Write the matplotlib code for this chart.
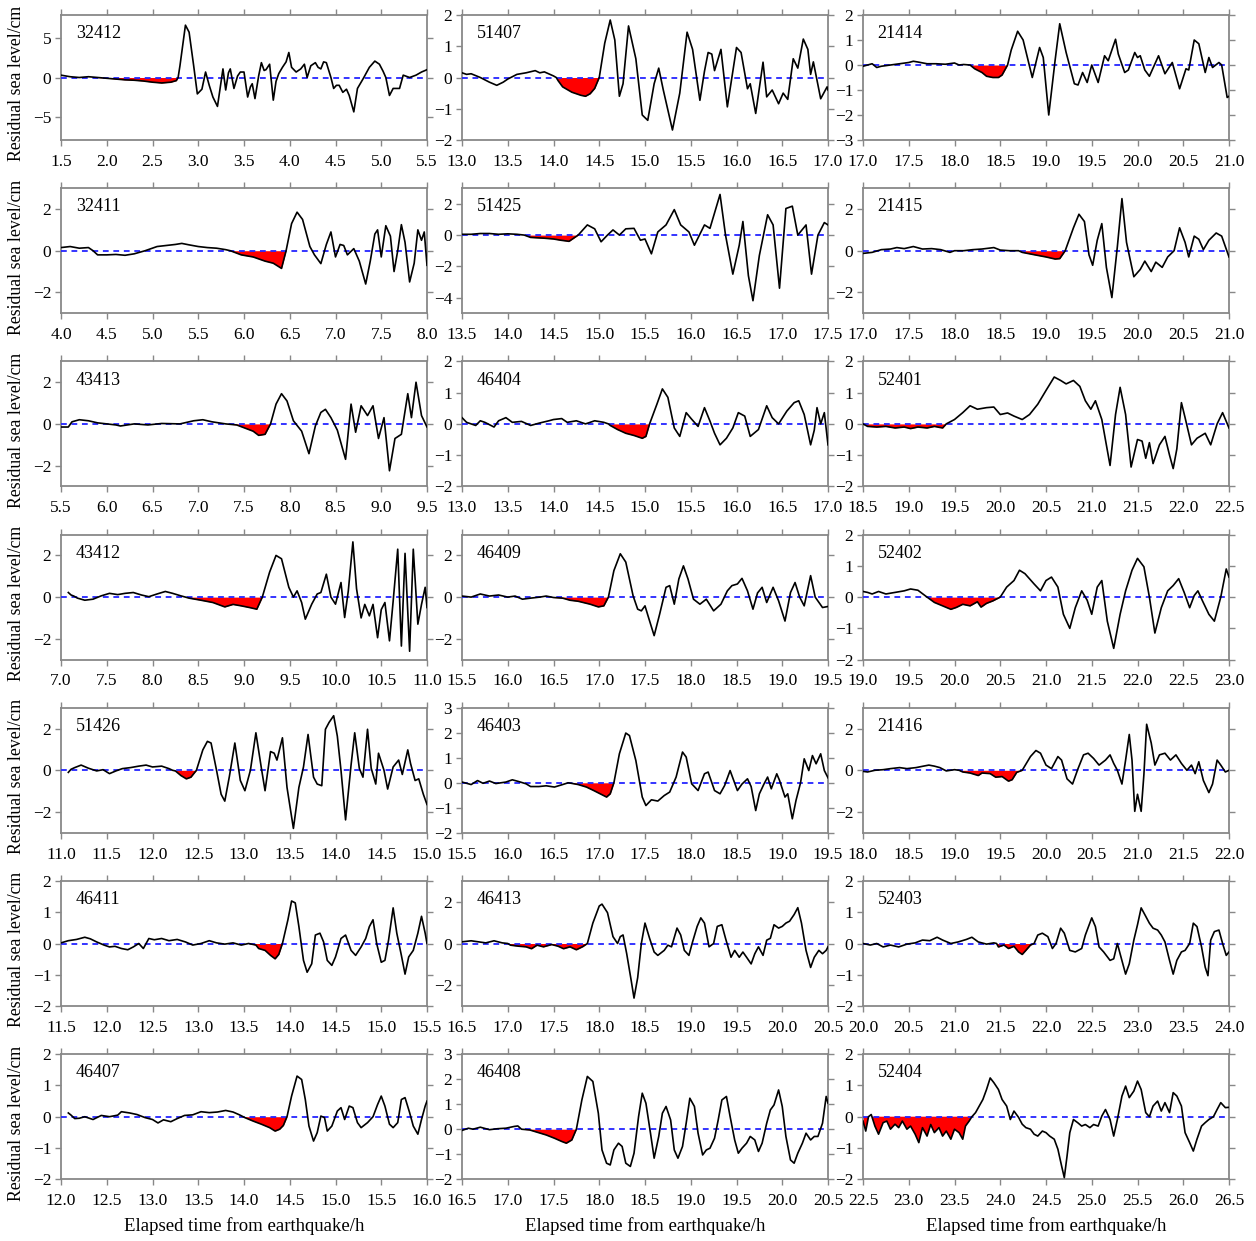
import numpy as np
import matplotlib.pyplot as plt

plt.rcParams['font.family'] = ['Liberation Serif', 'DejaVu Serif']
plt.rcParams['font.size'] = 12

# residual sea level records (time in h after earthquake, level in cm)
s32412 = [(1.5,0.3),(1.6,0.1),(1.7,0.0),(1.8,0.1),(1.9,0.0),(2.0,-0.1),(2.1,-0.2),(2.2,-0.3),(2.3,-0.35),(2.4,-0.45),(2.5,-0.6),(2.6,-0.7),(2.7,-0.6),(2.76,-0.4),(2.78,0.0),(2.8,1.5),(2.86,6.7),(2.9,5.8),(2.95,1.5),(2.99,-2.1),(3.04,-1.5),(3.08,0.7),(3.12,-1.0),(3.16,-2.5),(3.21,-3.7),(3.25,-0.5),(3.27,1.1),(3.3,-1.6),(3.33,0.6),(3.35,1.1),(3.39,-1.4),(3.43,0.2),(3.46,0.7),(3.5,0.7),(3.54,-2.5),(3.57,-1.2),(3.59,-0.8),(3.62,-2.7),(3.66,0.2),(3.69,1.9),(3.72,0.9),(3.74,1.0),(3.78,1.7),(3.82,-2.9),(3.85,-0.5),(3.88,0.5),(3.92,1.3),(3.96,2.0),(3.99,3.2),(4.02,1.3),(4.07,0.7),(4.12,1.1),(4.16,1.7),(4.19,0.0),(4.23,1.5),(4.28,1.9),(4.31,1.3),(4.34,1.1),(4.37,2.0),(4.40,1.9),(4.45,0.0),(4.48,-1.4),(4.51,-1.0),(4.54,-1.0),(4.58,-1.9),(4.62,-1.5),(4.65,-2.3),(4.70,-4.4),(4.74,-1.4),(4.8,-0.2),(4.87,1.3),(4.93,2.1),(4.98,1.7),(5.02,0.8),(5.05,0.0),(5.09,-2.3),(5.13,-1.4),(5.2,-1.4),(5.24,0.3),(5.31,0.0),(5.38,0.3),(5.44,0.7),(5.5,1.0)]
s51407 = [(13.0,0.15),(13.05,0.1),(13.1,0.12),(13.2,0.0),(13.3,-0.15),(13.38,-0.25),(13.45,-0.15),(13.5,-0.05),(13.6,0.1),(13.7,0.15),(13.8,0.22),(13.85,0.15),(13.9,0.18),(14.0,0.05),(14.03,0.0),(14.05,-0.1),(14.1,-0.3),(14.2,-0.47),(14.3,-0.57),(14.35,-0.6),(14.4,-0.52),(14.45,-0.35),(14.5,0.0),(14.56,1.1),(14.62,1.84),(14.67,1.2),(14.72,-0.6),(14.76,-0.2),(14.82,1.65),(14.9,0.6),(14.97,-1.2),(15.03,-1.37),(15.1,-0.2),(15.15,0.3),(15.2,-0.4),(15.3,-1.68),(15.38,-0.5),(15.46,1.45),(15.52,0.9),(15.6,-0.73),(15.65,0.2),(15.69,0.8),(15.73,0.75),(15.76,0.22),(15.83,0.9),(15.9,-0.94),(16.0,0.96),(16.05,0.8),(16.12,-0.36),(16.15,-0.2),(16.21,-1.15),(16.29,0.49),(16.33,-0.62),(16.39,-0.4),(16.46,-0.84),(16.51,-0.5),(16.56,-0.7),(16.62,0.6),(16.67,0.3),(16.73,1.23),(16.78,0.9),(16.81,0.1),(16.84,0.5),(16.92,-0.68),(16.99,-0.3),(17.0,-0.4)]
s21414 = [(17.0,-0.05),(17.1,0.05),(17.15,-0.1),(17.2,-0.05),(17.3,0.0),(17.4,0.05),(17.5,0.1),(17.55,0.15),(17.6,0.12),(17.7,0.05),(17.8,0.05),(17.9,0.03),(18.0,0.08),(18.05,0.0),(18.1,0.02),(18.17,0.0),(18.22,-0.15),(18.3,-0.3),(18.35,-0.45),(18.42,-0.5),(18.48,-0.5),(18.52,-0.4),(18.58,0.0),(18.62,0.6),(18.69,1.35),(18.75,1.0),(18.85,-0.5),(18.93,0.7),(18.97,0.3),(19.03,-2.0),(19.1,0.2),(19.15,1.65),(19.22,0.5),(19.31,-0.75),(19.35,-0.8),(19.4,-0.3),(19.45,-0.7),(19.5,0.0),(19.57,-0.7),(19.64,0.37),(19.68,0.17),(19.76,1.03),(19.79,0.44),(19.86,-0.3),(19.9,-0.2),(19.97,0.5),(20.0,0.3),(20.03,0.37),(20.08,-0.2),(20.13,-0.45),(20.23,0.37),(20.3,-0.35),(20.38,0.1),(20.46,-0.95),(20.53,-0.15),(20.56,-0.2),(20.62,1.0),(20.67,0.85),(20.74,-0.3),(20.78,0.3),(20.82,-0.1),(20.89,0.1),(20.92,0.0),(20.98,-1.3),(21.0,-1.25)]

s32411 = [(4.0,0.15),(4.1,0.2),(4.2,0.12),(4.3,0.15),(4.35,0.0),(4.4,-0.2),(4.5,-0.2),(4.6,-0.18),(4.7,-0.22),(4.8,-0.15),(4.92,0.0),(5.05,0.2),(5.15,0.25),(5.25,0.3),(5.32,0.35),(5.4,0.28),(5.5,0.2),(5.6,0.15),(5.7,0.12),(5.8,0.05),(5.85,0.0),(5.88,-0.05),(5.97,-0.2),(6.1,-0.3),(6.23,-0.5),(6.32,-0.6),(6.41,-0.85),(6.46,0.0),(6.52,1.3),(6.58,1.85),(6.64,1.5),(6.72,0.2),(6.77,-0.2),(6.84,-0.62),(6.9,0.3),(6.95,0.9),(7.0,-0.3),(7.05,0.3),(7.09,0.25),(7.13,-0.2),(7.2,0.1),(7.26,-0.5),(7.33,-1.6),(7.38,-0.5),(7.43,0.8),(7.46,1.0),(7.5,-0.3),(7.55,1.2),(7.6,0.7),(7.64,-1.0),(7.68,0.0),(7.72,1.25),(7.76,0.4),(7.81,-1.5),(7.86,-0.6),(7.9,1.0),(7.94,0.5),(7.97,0.9),(8.0,-0.7)]
s51425 = [(13.5,0.05),(13.6,0.05),(13.7,0.1),(13.8,0.1),(13.9,0.05),(14.0,0.08),(14.1,0.05),(14.18,0.0),(14.25,-0.15),(14.4,-0.2),(14.5,-0.25),(14.58,-0.33),(14.67,-0.4),(14.72,-0.2),(14.77,0.0),(14.87,0.65),(14.95,0.4),(15.02,-0.43),(15.09,0.0),(15.15,0.33),(15.22,0.0),(15.29,0.4),(15.38,0.43),(15.45,-0.33),(15.5,-0.25),(15.57,-1.2),(15.64,0.2),(15.73,0.65),(15.82,1.63),(15.89,0.65),(15.98,0.2),(16.04,-0.65),(16.15,0.65),(16.21,0.43),(16.32,2.6),(16.38,0.0),(16.46,-2.5),(16.53,-0.65),(16.57,0.87),(16.63,-2.6),(16.68,-4.2),(16.75,-1.3),(16.84,1.3),(16.9,0.65),(16.97,-3.4),(17.04,1.7),(17.11,1.85),(17.17,0.0),(17.26,0.65),(17.32,-2.5),(17.39,0.0),(17.46,0.8),(17.5,0.65)]
s21415 = [(17.0,-0.13),(17.1,-0.08),(17.2,0.05),(17.3,0.08),(17.37,0.15),(17.45,0.1),(17.55,0.2),(17.65,0.08),(17.75,0.1),(17.85,0.05),(17.95,-0.08),(18.0,0.0),(18.1,0.0),(18.2,0.05),(18.3,0.08),(18.43,0.15),(18.5,0.03),(18.6,0.0),(18.7,0.0),(18.74,-0.08),(18.88,-0.2),(19.0,-0.3),(19.1,-0.4),(19.15,-0.38),(19.21,0.0),(19.3,1.1),(19.36,1.75),(19.42,1.4),(19.47,-0.2),(19.51,-0.7),(19.56,0.5),(19.61,1.3),(19.66,-0.8),(19.72,-2.25),(19.78,0.2),(19.83,2.5),(19.88,0.4),(19.96,-1.25),(20.03,-0.9),(20.08,-0.5),(20.15,-1.0),(20.2,-0.55),(20.27,-0.8),(20.33,-0.3),(20.4,0.0),(20.46,1.1),(20.52,0.4),(20.56,-0.3),(20.62,0.7),(20.67,0.55),(20.72,0.05),(20.78,0.5),(20.86,0.85),(20.92,0.7),(21.0,-0.3)]

s43413 = [(5.5,-0.15),(5.58,-0.15),(5.62,0.1),(5.7,0.2),(5.8,0.15),(5.9,0.05),(6.0,0.0),(6.1,-0.05),(6.15,-0.1),(6.3,0.0),(6.45,-0.05),(6.6,0.02),(6.8,0.0),(6.95,0.15),(7.05,0.2),(7.15,0.1),(7.3,0.0),(7.42,-0.05),(7.51,-0.2),(7.6,-0.35),(7.66,-0.55),(7.73,-0.5),(7.79,0.0),(7.85,0.95),(7.91,1.45),(7.97,1.1),(8.04,0.15),(8.13,-0.35),(8.21,-1.43),(8.28,-0.1),(8.34,0.55),(8.39,0.7),(8.45,0.3),(8.52,-0.3),(8.61,-1.7),(8.67,0.95),(8.72,-0.4),(8.78,0.87),(8.85,0.4),(8.91,0.87),(8.97,-0.7),(9.03,0.3),(9.09,-2.25),(9.15,-0.7),(9.22,-0.5),(9.29,1.45),(9.33,0.3),(9.38,2.0),(9.44,0.4),(9.5,-0.15)]
s46404 = [(13.0,0.2),(13.05,0.05),(13.1,0.0),(13.15,-0.05),(13.2,0.1),(13.25,0.05),(13.35,-0.1),(13.4,0.1),(13.48,0.2),(13.55,0.05),(13.65,0.08),(13.75,-0.05),(13.85,0.03),(13.95,0.1),(14.0,0.14),(14.09,0.17),(14.15,0.05),(14.25,0.1),(14.35,0.0),(14.45,0.1),(14.55,0.05),(14.6,0.0),(14.62,-0.05),(14.7,-0.18),(14.79,-0.3),(14.88,-0.37),(14.97,-0.46),(15.01,-0.4),(15.05,0.0),(15.13,0.63),(15.19,1.12),(15.25,0.85),(15.32,-0.13),(15.38,-0.4),(15.45,0.36),(15.51,0.15),(15.58,-0.08),(15.65,0.52),(15.71,0.09),(15.76,-0.3),(15.82,-0.67),(15.89,-0.46),(15.96,-0.13),(16.02,0.36),(16.09,0.25),(16.15,-0.4),(16.24,-0.18),(16.33,0.58),(16.39,0.2),(16.46,0.0),(16.55,0.41),(16.63,0.68),(16.68,0.74),(16.74,0.3),(16.81,-0.67),(16.85,-0.2),(16.88,0.52),(16.92,0.0),(16.96,0.36),(17.0,-0.67)]
s52401 = [(18.5,0.0),(18.55,-0.08),(18.65,-0.1),(18.75,-0.08),(18.85,-0.13),(18.95,-0.1),(19.02,-0.15),(19.1,-0.1),(19.2,-0.13),(19.28,-0.08),(19.37,-0.13),(19.41,0.0),(19.5,0.14),(19.59,0.36),(19.67,0.58),(19.75,0.47),(19.85,0.52),(19.93,0.54),(20.0,0.3),(20.08,0.35),(20.15,0.25),(20.24,0.14),(20.32,0.3),(20.41,0.63),(20.5,1.07),(20.59,1.5),(20.66,1.39),(20.72,1.28),(20.8,1.39),(20.87,1.2),(20.93,0.74),(20.99,0.47),(21.04,0.74),(21.11,0.14),(21.2,-1.33),(21.26,0.3),(21.31,1.17),(21.37,0.3),(21.43,-1.38),(21.5,-0.5),(21.55,-0.55),(21.59,-1.1),(21.63,-0.6),(21.67,-1.27),(21.74,-0.67),(21.8,-0.4),(21.85,-1.0),(21.89,-1.43),(21.93,-0.8),(21.98,0.68),(22.02,0.2),(22.09,-0.67),(22.15,-0.46),(22.24,-0.3),(22.3,-0.67),(22.37,0.0),(22.43,0.36),(22.5,-0.13)]

s43412 = [(7.08,0.22),(7.11,0.1),(7.14,0.05),(7.18,-0.05),(7.26,-0.15),(7.35,-0.1),(7.44,0.06),(7.53,0.18),(7.62,0.12),(7.7,0.18),(7.79,0.22),(7.88,0.1),(7.96,0.02),(8.05,0.15),(8.14,0.27),(8.22,0.18),(8.31,0.06),(8.36,0.0),(8.4,-0.05),(8.53,-0.15),(8.66,-0.26),(8.79,-0.47),(8.88,-0.35),(8.97,-0.42),(9.06,-0.5),(9.14,-0.58),(9.2,0.0),(9.28,1.2),(9.35,2.0),(9.41,1.84),(9.49,0.47),(9.54,0.0),(9.58,0.3),(9.63,-0.26),(9.67,-1.06),(9.74,-0.34),(9.8,0.15),(9.84,0.22),(9.9,1.1),(9.95,0.0),(10.0,-0.34),(10.06,0.7),(10.1,-0.98),(10.14,0.3),(10.19,2.65),(10.23,0.4),(10.28,-1.0),(10.32,-0.35),(10.37,-0.9),(10.41,-0.35),(10.46,-1.95),(10.5,-0.6),(10.54,-0.26),(10.59,-2.1),(10.63,-0.2),(10.68,2.3),(10.72,-2.35),(10.76,2.1),(10.81,-2.6),(10.85,2.3),(10.9,-1.3),(10.94,-0.35),(10.98,0.47),(11.0,-0.5)]
s46409 = [(15.5,0.05),(15.6,0.0),(15.7,0.15),(15.8,0.05),(15.9,0.1),(16.0,0.0),(16.08,0.05),(16.16,-0.1),(16.25,-0.05),(16.35,0.0),(16.42,0.05),(16.5,-0.02),(16.6,-0.05),(16.68,-0.15),(16.77,-0.2),(16.9,-0.34),(16.99,-0.47),(17.05,-0.42),(17.1,0.0),(17.16,1.27),(17.23,2.08),(17.29,1.68),(17.37,0.06),(17.42,-0.58),(17.46,-0.66),(17.5,-0.42),(17.54,-1.0),(17.6,-1.85),(17.66,-0.82),(17.73,0.47),(17.77,0.55),(17.82,-0.34),(17.87,0.87),(17.92,1.5),(17.97,0.87),(18.03,-0.1),(18.1,-0.34),(18.17,-0.1),(18.25,-0.66),(18.33,-0.34),(18.4,0.3),(18.45,0.55),(18.51,0.63),(18.56,0.9),(18.62,0.3),(18.68,-0.58),(18.73,0.2),(18.78,0.47),(18.83,-0.26),(18.9,0.47),(18.96,-0.18),(19.03,-1.15),(19.09,0.22),(19.14,0.7),(19.19,0.0),(19.24,-0.42),(19.31,1.03),(19.36,0.0),(19.44,-0.5),(19.5,-0.45)]
s52402 = [(19.0,0.18),(19.05,0.15),(19.1,0.1),(19.17,0.18),(19.25,0.1),(19.35,0.15),(19.45,0.2),(19.52,0.26),(19.6,0.22),(19.7,0.0),(19.78,-0.17),(19.87,-0.28),(19.96,-0.39),(20.02,-0.33),(20.09,-0.23),(20.17,-0.28),(20.25,-0.15),(20.29,-0.32),(20.35,-0.2),(20.42,-0.12),(20.5,0.0),(20.57,0.32),(20.65,0.53),(20.71,0.86),(20.77,0.75),(20.87,0.42),(20.94,0.2),(21.0,0.53),(21.06,0.64),(21.13,0.32),(21.19,-0.55),(21.26,-1.0),(21.32,-0.34),(21.39,0.2),(21.45,-0.1),(21.5,-0.55),(21.56,0.32),(21.61,0.53),(21.67,-0.77),(21.74,-1.64),(21.81,-0.55),(21.87,0.2),(21.94,0.86),(22.0,1.24),(22.07,0.97),(22.13,0.0),(22.19,-1.15),(22.26,-0.34),(22.33,0.2),(22.39,0.37),(22.45,0.59),(22.51,0.15),(22.57,-0.34),(22.62,0.05),(22.66,0.2),(22.71,-0.12),(22.78,-0.55),(22.84,-0.77),(22.91,0.0),(22.97,0.9),(23.0,0.64)]

s51426 = [(11.08,-0.1),(11.11,0.05),(11.15,0.13),(11.22,0.25),(11.3,0.1),(11.39,-0.03),(11.46,0.03),(11.53,-0.16),(11.6,-0.03),(11.67,0.08),(11.76,0.13),(11.85,0.2),(11.93,0.25),(12.0,0.16),(12.1,0.2),(12.18,0.08),(12.22,0.0),(12.25,-0.03),(12.31,-0.25),(12.37,-0.41),(12.42,-0.33),(12.48,0.0),(12.55,0.98),(12.6,1.39),(12.64,1.31),(12.7,0.0),(12.75,-1.15),(12.79,-1.48),(12.84,-0.3),(12.9,1.31),(12.96,-0.49),(13.01,-0.98),(13.07,0.0),(13.13,1.8),(13.19,0.1),(13.23,-0.98),(13.29,0.9),(13.33,0.82),(13.36,0.49),(13.42,1.56),(13.47,-0.82),(13.54,-2.79),(13.6,-0.82),(13.65,0.16),(13.7,1.72),(13.76,-0.33),(13.8,-0.66),(13.85,-0.74),(13.89,1.97),(13.93,2.3),(13.98,2.62),(14.02,1.64),(14.06,0.0),(14.11,-2.38),(14.17,0.25),(14.21,1.8),(14.26,0.1),(14.3,-0.33),(14.35,1.97),(14.39,0.1),(14.44,-0.66),(14.47,0.82),(14.53,0.0),(14.57,-0.9),(14.63,0.16),(14.69,0.49),(14.73,-0.2),(14.79,0.98),(14.82,0.33),(14.87,-0.49),(14.91,-0.41),(14.96,-1.15),(15.0,-1.64)]
s46403 = [(15.5,0.03),(15.6,-0.07),(15.67,0.09),(15.73,-0.02),(15.8,0.07),(15.87,-0.03),(15.98,0.03),(16.05,0.12),(16.12,0.05),(16.2,-0.04),(16.25,-0.15),(16.34,-0.15),(16.42,-0.12),(16.51,-0.17),(16.6,-0.07),(16.66,0.0),(16.68,-0.01),(16.77,-0.07),(16.86,-0.17),(16.94,-0.31),(17.01,-0.44),(17.08,-0.57),(17.12,-0.44),(17.16,0.0),(17.22,1.16),(17.29,1.99),(17.33,1.89),(17.4,0.89),(17.47,-0.57),(17.51,-0.91),(17.57,-0.68),(17.64,-0.73),(17.71,-0.51),(17.77,-0.37),(17.84,0.23),(17.91,1.23),(17.95,1.03),(18.01,-0.04),(18.08,-0.31),(18.15,0.36),(18.19,0.43),(18.26,-0.31),(18.32,-0.44),(18.37,-0.11),(18.43,0.49),(18.47,0.09),(18.51,-0.31),(18.56,-0.05),(18.62,0.16),(18.66,-0.15),(18.71,-1.11),(18.75,-0.44),(18.8,-0.05),(18.84,0.23),(18.88,-0.24),(18.94,0.36),(18.97,0.1),(19.03,-0.57),(19.06,-0.44),(19.11,-1.44),(19.15,-0.71),(19.2,0.0),(19.24,0.96),(19.29,0.49),(19.33,1.09),(19.37,0.76),(19.42,1.16),(19.46,0.49),(19.5,0.2)]
s21416 = [(18.0,-0.05),(18.05,-0.08),(18.13,0.0),(18.22,0.03),(18.3,0.08),(18.4,0.13),(18.48,0.08),(18.58,0.13),(18.66,0.2),(18.72,0.25),(18.78,0.2),(18.84,0.13),(18.91,-0.03),(19.0,0.03),(19.05,0.0),(19.09,-0.08),(19.17,-0.13),(19.26,-0.25),(19.3,-0.13),(19.39,-0.16),(19.45,-0.33),(19.52,-0.3),(19.59,-0.52),(19.63,-0.45),(19.68,-0.1),(19.74,0.0),(19.83,0.66),(19.89,0.95),(19.94,0.82),(20.0,0.25),(20.06,0.08),(20.13,0.66),(20.17,0.49),(20.23,-0.41),(20.29,-0.66),(20.35,0.08),(20.41,0.74),(20.46,0.82),(20.52,0.57),(20.58,0.25),(20.65,0.49),(20.7,0.74),(20.74,0.33),(20.78,0.0),(20.83,-0.66),(20.87,0.49),(20.91,1.72),(20.94,0.49),(20.97,-1.97),(21.0,-1.15),(21.04,-1.97),(21.07,-0.2),(21.1,2.21),(21.15,1.31),(21.19,0.25),(21.24,0.74),(21.3,0.82),(21.36,0.49),(21.42,0.74),(21.48,0.33),(21.54,0.0),(21.59,0.25),(21.63,-0.16),(21.67,0.41),(21.72,-0.49),(21.78,-1.07),(21.82,-0.66),(21.87,0.49),(21.91,0.25),(21.96,-0.08),(22.0,0.0)]

s46411 = [(11.5,0.02),(11.58,0.09),(11.67,0.13),(11.76,0.2),(11.82,0.15),(11.89,0.05),(11.97,-0.05),(12.03,-0.11),(12.09,-0.09),(12.16,-0.16),(12.23,-0.2),(12.29,-0.11),(12.35,0.0),(12.4,-0.16),(12.46,0.16),(12.52,0.12),(12.6,0.16),(12.68,0.09),(12.77,0.13),(12.86,0.05),(12.94,-0.05),(13.03,0.0),(13.12,0.09),(13.2,0.02),(13.29,-0.02),(13.38,0.02),(13.47,-0.05),(13.55,0.0),(13.63,-0.05),(13.66,-0.16),(13.73,-0.22),(13.79,-0.38),(13.84,-0.49),(13.88,-0.35),(13.92,0.0),(13.98,0.76),(14.02,1.36),(14.06,1.3),(14.1,0.54),(14.15,-0.54),(14.19,-0.92),(14.24,-0.65),(14.28,0.27),(14.33,0.33),(14.37,0.05),(14.41,-0.54),(14.46,-0.7),(14.5,-0.43),(14.56,0.16),(14.61,0.27),(14.67,-0.22),(14.72,-0.38),(14.78,-0.11),(14.83,0.16),(14.87,0.54),(14.91,0.76),(14.95,0.0),(15.0,-0.6),(15.04,-0.54),(15.08,0.11),(15.13,1.14),(15.17,0.33),(15.22,-0.38),(15.26,-0.98),(15.3,-0.43),(15.35,-0.22),(15.4,0.33),(15.44,0.87),(15.48,0.33),(15.5,0.0)]
s46413 = [(16.5,0.08),(16.6,0.13),(16.68,0.08),(16.76,0.03),(16.85,0.13),(16.94,0.03),(17.0,0.0),(17.03,-0.08),(17.12,-0.13),(17.2,-0.16),(17.26,-0.25),(17.32,-0.08),(17.39,-0.16),(17.48,-0.05),(17.55,-0.13),(17.61,-0.25),(17.68,-0.16),(17.75,-0.3),(17.82,-0.15),(17.87,0.0),(17.93,0.98),(18.0,1.8),(18.03,1.89),(18.09,1.48),(18.15,0.33),(18.2,0.0),(18.23,0.33),(18.26,0.41),(18.3,-0.49),(18.35,-1.8),(18.38,-2.62),(18.42,-1.64),(18.46,0.0),(18.5,0.98),(18.55,0.25),(18.6,-0.41),(18.64,-0.57),(18.71,-0.33),(18.75,-0.08),(18.79,-0.16),(18.85,0.74),(18.89,0.41),(18.93,-0.33),(18.98,-0.57),(19.02,0.08),(19.07,0.82),(19.11,1.23),(19.15,0.98),(19.2,-0.16),(19.25,0.0),(19.29,0.82),(19.34,0.9),(19.38,0.25),(19.44,-0.66),(19.48,-0.33),(19.53,-0.66),(19.57,-0.41),(19.61,-0.66),(19.66,-0.98),(19.7,-0.49),(19.74,-0.16),(19.79,-0.57),(19.83,0.16),(19.87,0.25),(19.91,0.9),(19.96,0.74),(20.0,0.82),(20.04,0.98),(20.08,1.07),(20.13,1.39),(20.17,1.72),(20.21,0.98),(20.26,-0.33),(20.31,-1.15),(20.35,-0.66),(20.4,-0.33),(20.44,-0.49),(20.48,-0.33),(20.5,-0.16)]
s52403 = [(20.0,0.0),(20.08,-0.05),(20.15,0.0),(20.22,-0.11),(20.3,-0.05),(20.39,-0.11),(20.48,-0.02),(20.57,0.02),(20.65,0.11),(20.73,0.09),(20.81,0.2),(20.87,0.11),(20.96,0.0),(21.04,0.05),(21.13,0.13),(21.19,0.2),(21.26,0.05),(21.35,-0.02),(21.43,0.02),(21.46,0.0),(21.48,-0.11),(21.54,-0.05),(21.59,-0.16),(21.65,-0.09),(21.7,-0.27),(21.74,-0.35),(21.78,-0.22),(21.83,-0.05),(21.87,0.0),(21.91,0.27),(21.96,0.33),(22.02,0.22),(22.07,-0.16),(22.11,0.0),(22.16,0.49),(22.2,0.33),(22.26,-0.22),(22.32,-0.27),(22.39,-0.16),(22.43,0.27),(22.5,0.82),(22.54,0.54),(22.58,-0.11),(22.63,-0.27),(22.7,-0.54),(22.74,-0.49),(22.78,0.0),(22.81,-0.33),(22.87,-0.98),(22.91,-0.65),(22.96,0.11),(23.0,0.6),(23.04,1.14),(23.09,0.87),(23.13,0.65),(23.17,0.49),(23.22,0.43),(23.26,0.27),(23.3,0.05),(23.35,-0.54),(23.39,-0.98),(23.43,-0.54),(23.48,-0.27),(23.52,-0.22),(23.57,0.0),(23.61,0.65),(23.65,0.54),(23.7,-0.11),(23.74,-0.76),(23.77,-1.03),(23.8,0.11),(23.84,0.38),(23.89,0.43),(23.93,0.0),(23.97,-0.38),(24.0,-0.27)]

s46407 = [(12.08,0.12),(12.11,0.05),(12.15,-0.06),(12.2,-0.05),(12.26,0.0),(12.35,-0.09),(12.44,0.04),(12.53,0.0),(12.62,0.05),(12.66,0.16),(12.75,0.12),(12.83,0.07),(12.92,-0.03),(13.0,-0.09),(13.06,-0.2),(13.12,-0.1),(13.2,-0.16),(13.27,-0.06),(13.35,0.04),(13.44,0.06),(13.53,0.16),(13.62,0.13),(13.71,0.15),(13.8,0.2),(13.88,0.15),(13.95,0.06),(13.99,0.0),(14.01,-0.03),(14.1,-0.14),(14.19,-0.24),(14.28,-0.35),(14.34,-0.46),(14.39,-0.4),(14.43,-0.28),(14.47,0.0),(14.52,0.66),(14.58,1.3),(14.63,1.19),(14.67,0.55),(14.71,-0.3),(14.76,-0.78),(14.8,-0.51),(14.84,0.02),(14.88,-0.03),(14.91,-0.46),(14.96,-0.3),(15.02,0.18),(15.06,0.29),(15.1,-0.09),(15.15,0.34),(15.19,0.29),(15.24,-0.19),(15.28,-0.35),(15.35,-0.19),(15.41,0.0),(15.46,0.39),(15.5,0.66),(15.54,0.34),(15.59,-0.24),(15.63,-0.35),(15.68,-0.19),(15.72,0.55),(15.76,0.61),(15.81,0.13),(15.85,-0.3),(15.9,-0.56),(15.94,-0.09),(15.98,0.34),(16.0,0.5)]
s46408 = [(16.5,-0.05),(16.57,0.04),(16.62,0.0),(16.7,0.08),(16.8,-0.02),(16.89,0.02),(16.98,0.04),(17.07,0.11),(17.11,0.13),(17.15,0.0),(17.24,-0.03),(17.33,-0.13),(17.42,-0.23),(17.51,-0.36),(17.59,-0.49),(17.64,-0.56),(17.7,-0.43),(17.75,0.0),(17.81,1.17),(17.87,2.11),(17.93,1.91),(17.99,0.64),(18.03,-0.83),(18.08,-1.36),(18.12,-1.43),(18.16,-0.83),(18.21,-0.56),(18.25,-0.69),(18.29,-1.36),(18.34,-1.49),(18.38,-0.96),(18.43,0.51),(18.47,1.44),(18.51,1.04),(18.56,-0.16),(18.6,-1.16),(18.65,-0.29),(18.69,0.64),(18.73,0.91),(18.78,0.37),(18.82,-0.83),(18.86,-1.16),(18.91,-0.69),(18.95,0.24),(18.99,1.24),(19.04,0.91),(19.08,-0.16),(19.13,-1.03),(19.17,-0.83),(19.21,-0.76),(19.26,-0.36),(19.3,0.37),(19.34,1.17),(19.39,1.31),(19.43,0.51),(19.48,-0.43),(19.52,-0.96),(19.56,-0.76),(19.61,-0.56),(19.65,-0.29),(19.7,-0.43),(19.74,-0.89),(19.78,-0.56),(19.83,0.24),(19.87,0.77),(19.91,0.97),(19.96,1.57),(20.0,0.91),(20.04,-0.29),(20.09,-1.23),(20.13,-1.36),(20.17,-0.96),(20.22,-0.56),(20.26,-0.16),(20.31,-0.43),(20.35,-0.29),(20.39,-0.29),(20.44,0.24),(20.48,1.31),(20.5,1.04)]
s52404 = [(22.5,-0.14),(22.53,-0.46),(22.56,0.0),(22.59,0.07),(22.63,-0.3),(22.67,-0.56),(22.72,-0.19),(22.76,-0.14),(22.8,-0.4),(22.85,-0.24),(22.89,-0.35),(22.93,-0.14),(22.98,-0.4),(23.02,-0.3),(23.07,-0.56),(23.11,-0.83),(23.15,-0.35),(23.2,-0.62),(23.24,-0.25),(23.28,-0.51),(23.33,-0.35),(23.37,-0.62),(23.41,-0.46),(23.46,-0.72),(23.5,-0.4),(23.55,-0.51),(23.59,-0.72),(23.62,-0.3),(23.66,-0.14),(23.69,0.0),(23.73,0.13),(23.77,0.34),(23.81,0.55),(23.85,0.87),(23.89,1.24),(23.93,1.09),(23.98,0.87),(24.02,0.55),(24.07,0.34),(24.11,-0.09),(24.15,0.18),(24.2,-0.02),(24.24,-0.24),(24.28,-0.35),(24.33,-0.4),(24.37,-0.56),(24.41,-0.62),(24.46,-0.46),(24.5,-0.51),(24.54,-0.62),(24.59,-0.72),(24.63,-1.04),(24.67,-1.57),(24.7,-1.95),(24.73,-1.26),(24.76,-0.51),(24.8,-0.09),(24.85,-0.2),(24.89,-0.3),(24.93,-0.25),(24.98,-0.35),(25.02,-0.25),(25.07,-0.3),(25.11,0.02),(25.15,0.23),(25.2,-0.09),(25.24,-0.62),(25.28,-0.09),(25.33,0.66),(25.37,0.98),(25.41,0.61),(25.46,0.82),(25.5,1.14),(25.54,0.87),(25.59,0.13),(25.63,0.0),(25.67,0.34),(25.72,0.5),(25.76,0.18),(25.8,0.45),(25.85,0.13),(25.89,0.77),(25.93,0.66),(25.98,0.34),(26.02,-0.51),(26.07,-0.83),(26.11,-1.1),(26.15,-0.72),(26.2,-0.3),(26.24,-0.19),(26.28,-0.09),(26.33,0.0),(26.37,0.23),(26.41,0.45),(26.46,0.29),(26.5,0.3)]

# station name, record, x range, y range, y ticks, leading-depression window (red)
panels = [
    ('32412', s32412, (1.5, 5.5), (-8, 8), [-5, 0, 5], (1.9, 2.78)),
    ('51407', s51407, (13.0, 17.0), (-2, 2), [-2, -1, 0, 1, 2], (14.03, 14.5)),
    ('21414', s21414, (17.0, 21.0), (-3, 2), [-3, -2, -1, 0, 1, 2], (18.17, 18.58)),
    ('32411', s32411, (4.0, 8.0), (-3, 3), [-2, 0, 2], (5.85, 6.46)),
    ('51425', s51425, (13.5, 17.5), (-5, 3), [-4, -2, 0, 2], (14.18, 14.77)),
    ('21415', s21415, (17.0, 21.0), (-3, 3), [-2, 0, 2], (18.7, 19.21)),
    ('43413', s43413, (5.5, 9.5), (-3, 3), [-2, 0, 2], (7.3, 7.79)),
    ('46404', s46404, (13.0, 17.0), (-2, 2), [-2, -1, 0, 1, 2], (14.6, 15.05)),
    ('52401', s52401, (18.5, 22.5), (-2, 2), [-2, -1, 0, 1, 2], (18.5, 19.41)),
    ('43412', s43412, (7.0, 11.0), (-3, 3), [-2, 0, 2], (8.36, 9.2)),
    ('46409', s46409, (15.5, 19.5), (-3, 3), [-2, 0, 2], (16.5, 17.1)),
    ('52402', s52402, (19.0, 23.0), (-2, 2), [-2, -1, 0, 1, 2], (19.7, 20.5)),
    ('51426', s51426, (11.0, 15.0), (-3, 3), [-2, 0, 2], (12.22, 12.48)),
    ('46403', s46403, (15.5, 19.5), (-2, 3), [-2, -1, 0, 1, 2, 3], (16.66, 17.16)),
    ('21416', s21416, (18.0, 22.0), (-3, 3), [-2, 0, 2], (19.05, 19.74)),
    ('46411', s46411, (11.5, 15.5), (-2, 2), [-2, -1, 0, 1, 2], (13.55, 13.92)),
    ('46413', s46413, (16.5, 20.5), (-3, 3), [-2, 0, 2], (17.0, 17.87)),
    ('52403', s52403, (20.0, 24.0), (-2, 2), [-2, -1, 0, 1, 2], (21.46, 21.87)),
    ('46407', s46407, (12.0, 16.0), (-2, 2), [-2, -1, 0, 1, 2], (13.99, 14.47)),
    ('46408', s46408, (16.5, 20.5), (-2, 3), [-2, -1, 0, 1, 2, 3], (17.15, 17.75)),
    ('52404', s52404, (22.5, 26.5), (-2, 2), [-2, -1, 0, 1, 2], (22.5, 23.69)),
]

W, H = 1256, 1241
fig = plt.figure(figsize=(W / 100, H / 100), dpi=100)

col_left = [61, 462, 863]
ax_w, ax_h = 366, 125
row_top0, row_step = 15, 173.2
frame_col = '#888888'

for i, (name, rec, xr, yr, yt, win) in enumerate(panels):
    r, c = divmod(i, 3)
    top = row_top0 + r * row_step
    ax = fig.add_axes([col_left[c] / W, 1 - (top + ax_h) / H, ax_w / W, ax_h / H])

    t = np.array([p[0] for p in rec])
    v = np.array([p[1] for p in rec])

    mask = (t >= win[0]) & (t <= win[1]) & (v <= 0)
    ax.fill_between(t, v, 0, where=mask, interpolate=True, color='#ff0000', lw=0, zorder=2)
    ax.axhline(0, color='#2424ff', lw=1.3, ls=(0, (3.2, 2.6)), zorder=3)
    ax.plot(t, v, color='black', lw=1.2, zorder=4)

    ticks = np.arange(xr[0], xr[1] + 0.01, 0.5)
    ax.set_xlim(*xr)
    ax.set_ylim(*yr)
    ax.set_xticks(ticks)
    ax.set_xticklabels(['%.1f' % x for x in ticks])
    ax.set_yticks(yt)
    ax.tick_params(direction='out', length=4, width=1.0, color=frame_col,
                   top=True, right=True, labelsize=12.5)
    ax.tick_params(axis='x', pad=6)
    ax.tick_params(axis='y', pad=3)
    for sp in ax.spines.values():
        sp.set_color(frame_col)
        sp.set_linewidth(1.3)

    ax.text(0.04, 0.85, name, transform=ax.transAxes, fontsize=13,
            ha='left', va='center')

    if c == 0:
        ax.set_ylabel('Residual sea level/cm', fontsize=12.8)
        ax.yaxis.set_label_coords(-0.098, 0.45)
    if r == 6:
        ax.set_xlabel('Elapsed time from earthquake/h', fontsize=13.5, labelpad=6)

fig.savefig('out.png', dpi=100)
